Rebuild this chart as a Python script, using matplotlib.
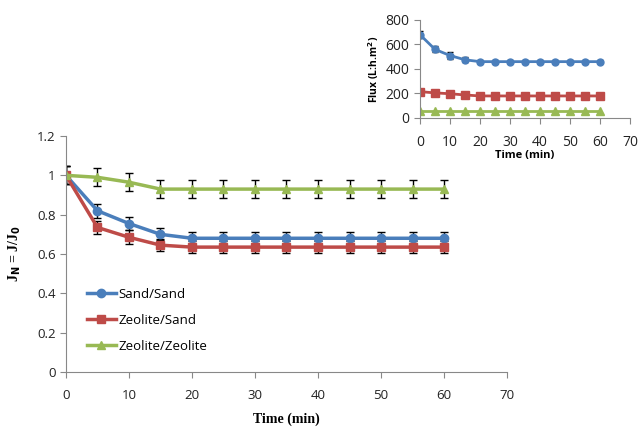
import numpy as np
import matplotlib
matplotlib.use("Agg")
import matplotlib.pyplot as plt

# ── Data ──────────────────────────────────────────────────────────────────────
time = [0, 5, 10, 15, 20, 25, 30, 35, 40, 45, 50, 55, 60]

# normalised flux J/J0
sand_sand = [1.0, 0.82, 0.755, 0.70, 0.68, 0.68, 0.68, 0.68, 0.68, 0.68, 0.68, 0.68, 0.68]
zeo_sand = [1.0, 0.735, 0.685, 0.645, 0.635, 0.635, 0.635, 0.635, 0.635, 0.635, 0.635, 0.635, 0.635]
zeo_zeo = [1.0, 0.99, 0.965, 0.93, 0.93, 0.93, 0.93, 0.93, 0.93, 0.93, 0.93, 0.93, 0.93]

sand_sand_err = [0.045, 0.035, 0.035, 0.03, 0.03, 0.03, 0.03, 0.03, 0.03, 0.03, 0.03, 0.03, 0.03]
zeo_sand_err = [0.045, 0.035, 0.035, 0.03, 0.03, 0.03, 0.03, 0.03, 0.03, 0.03, 0.03, 0.03, 0.03]
zeo_zeo_err = [0.045, 0.045, 0.045, 0.045, 0.045, 0.045, 0.045, 0.045, 0.045, 0.045, 0.045, 0.045, 0.045]

# absolute flux (inset)
flux_sand_sand = [680, 560, 510, 475, 460, 460, 460, 460, 460, 460, 460, 460, 460]
flux_zeo_sand = [215, 205, 198, 188, 180, 180, 180, 180, 180, 180, 180, 180, 180]
flux_zeo_zeo = [60, 60, 60, 60, 60, 60, 60, 60, 60, 60, 60, 60, 60]
flux_sand_sand_err = [30, 25, 25, 20, 15, 15, 15, 15, 15, 15, 15, 15, 15]

labels = ["Sand/Sand", "Zeolite/Sand", "Zeolite/Zeolite"]

BLUE = "#4a7ebb"
RED = "#be4b48"
GREEN = "#98b954"
TICK_FONT = "Open Sans"


def excel_axes(ax, fs):
    ax.spines["top"].set_visible(False)
    ax.spines["right"].set_visible(False)
    for s in ("left", "bottom"):
        ax.spines[s].set_color("#888888")
        ax.spines[s].set_linewidth(0.8)
    ax.tick_params(direction="out", length=4, width=0.8, color="#888888",
                   labelsize=fs, labelcolor="#222222")
    for lab in ax.get_xticklabels() + ax.get_yticklabels():
        lab.set_fontfamily(TICK_FONT)


fig = plt.figure(figsize=(6.38, 4.30), dpi=100)

# ── Main axes ─────────────────────────────────────────────────────────────────
ax = fig.add_axes([0.1034, 0.1349, 0.6913, 0.5488])
series = [(sand_sand, sand_sand_err, BLUE, "o", 6),
          (zeo_sand, zeo_sand_err, RED, "s", 6),
          (zeo_zeo, zeo_zeo_err, GREEN, "^", 6)]
for (y, e, c, m, ms), lab in zip(series, labels):
    ax.errorbar(time, y, yerr=e, color=c, lw=2.5, marker=m, ms=ms,
                ecolor="black", elinewidth=1, capsize=3, capthick=1,
                label=lab)

ax.set_xlim(0, 70)
ax.set_ylim(0, 1.2)
ax.set_xticks(np.arange(0, 71, 10))
ax.set_yticks([0, 0.2, 0.4, 0.6, 0.8, 1.0, 1.2])
ax.set_yticklabels(["0", "0.2", "0.4", "0.6", "0.8", "1", "1.2"])
excel_axes(ax, 9.5)
ax.tick_params(axis="x", pad=8)
ax.set_xlabel("Time (min)", fontfamily="Liberation Serif", fontweight="bold",
              fontsize=10, labelpad=8)
ax.set_ylabel(r"J$_\mathbf{N}$ = J/J$_\mathbf{0}$", fontfamily="Liberation Serif",
              fontweight="bold", fontsize=10, labelpad=10)

handles, hl = ax.get_legend_handles_labels()
handles = [h[0] for h in handles]
leg = ax.legend(handles, hl, loc="lower left", bbox_to_anchor=(0.02, 0.03),
                frameon=False, handlelength=2.2, handletextpad=0.2,
                labelspacing=1.0, prop={"family": TICK_FONT, "size": 9.5})

# ── Inset ─────────────────────────────────────────────────────────────────────
ins = fig.add_axes([0.6583, 0.7256, 0.3292, 0.2279])
ins.errorbar(time, flux_sand_sand, yerr=flux_sand_sand_err, color=BLUE, lw=2,
             marker="o", ms=5, ecolor="black", elinewidth=0.8, capsize=2)
ins.plot(time, flux_zeo_sand, color=RED, lw=2, marker="s", ms=5.5)
ins.plot(time, flux_zeo_zeo, color=GREEN, lw=2, marker="^", ms=5.5)
ins.set_xlim(0, 70)
ins.set_ylim(0, 800)
ins.set_xticks(np.arange(0, 71, 10))
ins.set_yticks([0, 200, 400, 600, 800])
excel_axes(ins, 10)
ins.tick_params(axis="x", pad=8)
ins.set_xlabel("Time (min)", fontfamily=TICK_FONT, fontweight="bold",
              fontsize=8, labelpad=0)
ins.set_ylabel(r"Flux (L:h.m$^\mathbf{2}$)", fontfamily=TICK_FONT,
               fontweight="bold", fontsize=7.5, labelpad=3)

fig.savefig("out.png", dpi=100)
plt.close(fig)
